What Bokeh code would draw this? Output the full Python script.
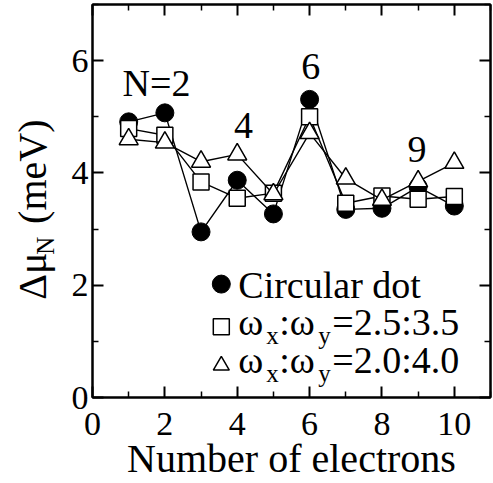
import math
from bokeh.plotting import figure
from bokeh.layouts import row
from bokeh.models import Range1d, LinearAxis, FixedTicker
from bokeh.core.properties import value
from bokeh.embed import file_html
from bokeh.resources import INLINE

# ---- data ----
electrons = [1, 2, 3, 4, 5, 6, 7, 8, 9, 10]
circular = [4.91, 5.07, 2.95, 3.87, 3.27, 5.31, 3.35, 3.37, 3.75, 3.41]
ratio_25_35 = [4.79, 4.67, 3.84, 3.55, 3.64, 5.00, 3.46, 3.59, 3.53, 3.58]
ratio_20_40 = [4.60, 4.54, 4.20, 4.33, 3.62, 4.71, 3.90, 3.52, 3.85, 4.18]

x_major = [0, 2, 4, 6, 8, 10]
x_minor = [1, 3, 5, 7, 9, 11]
y_major = [0, 2, 4, 6]
y_minor = [1, 3, 5, 7]

FONT = "Liberation Serif"
LEFT_W = 60
H = 483
K = 0.33  # baseline correction (fraction of font size)

p = figure(width=493 - LEFT_W, height=H, x_range=Range1d(0, 11), y_range=Range1d(0, 7),
           output_backend="svg", toolbar_location=None,
           min_border_left=92 - LEFT_W, min_border_right=3, min_border_top=4, min_border_bottom=85)
p.grid.visible = False
p.outline_line_color = "black"
p.outline_line_width = 2
p.background_fill_color = "white"

def style_axis(ax, ticks, minor, labels=True):
    ax.ticker = FixedTicker(ticks=ticks, minor_ticks=minor)
    ax.axis_line_width = 2
    ax.axis_line_color = "black"
    ax.major_tick_in = 11
    ax.major_tick_out = 0
    ax.minor_tick_in = 6
    ax.minor_tick_out = 0
    ax.major_tick_line_width = 2
    ax.minor_tick_line_width = 1.5
    ax.major_tick_line_color = "black"
    ax.minor_tick_line_color = "black"
    ax.major_label_text_font = FONT
    ax.major_label_text_color = "black"
    ax.major_label_text_font_size = "34px"
    if not labels:
        ax.major_label_overrides = {t: "" for t in ticks}
        ax.major_label_standoff = 0

style_axis(p.xaxis[0], x_major, x_minor)
p.xaxis[0].major_label_standoff = 15
p.xaxis[0].axis_label = "Number of electrons"
p.xaxis[0].axis_label_text_font = FONT
p.xaxis[0].axis_label_text_font_size = "40px"
p.xaxis[0].axis_label_text_font_style = "normal"
p.xaxis[0].axis_label_text_color = "black"
p.xaxis[0].axis_label_standoff = -2
style_axis(p.yaxis[0], y_major, y_minor)
p.yaxis[0].major_label_standoff = 4

top = LinearAxis()
style_axis(top, x_major, x_minor, labels=False)
p.add_layout(top, "above")
right = LinearAxis()
style_axis(right, y_major, y_minor, labels=False)
p.add_layout(right, "right")

# ---- series ----
p.line(electrons, circular, line_color="black", line_width=1.4)
p.scatter(electrons, circular, marker="circle", size=18, fill_color="black", line_color="black")
p.line(electrons, ratio_25_35, line_color="black", line_width=1.4)
p.scatter(electrons, ratio_25_35, marker="square", size=16, fill_color="white",
          line_color="black", line_width=1.5)
p.line(electrons, ratio_20_40, line_color="black", line_width=1.4)
p.scatter(electrons, ratio_20_40, marker="triangle", size=19, fill_color="white",
          line_color="black", line_width=1.5)

def txt(fig, text, x, y, size_px, xoff=0, yoff=0, align="left", rotated=False):
    corr = K * size_px
    if rotated:
        fig.text(x=[x], y=[y], text=[text], x_offset=xoff - corr, y_offset=yoff,
                 angle=math.pi / 2, text_font=value(FONT), text_font_size=f"{size_px}px",
                 text_align=align, text_baseline="alphabetic", text_color="black")
    else:
        fig.text(x=[x], y=[y], text=[text], x_offset=xoff, y_offset=yoff - corr,
                 text_font=value(FONT), text_font_size=f"{size_px}px",
                 text_align=align, text_baseline="alphabetic", text_color="black")

# ---- annotations ----
for t, xx, yy in [("N=2", 1.77, 5.38), ("6", 6.03, 5.68), ("4", 4.17, 4.62), ("9", 8.97, 4.19)]:
    txt(p, t, xx, yy, 38, align="center")

# ---- legend (manual) ----
p.scatter([3.56], [2.02], marker="circle", size=18, fill_color="black", line_color="black")
p.scatter([3.56], [1.26], marker="square", size=16, fill_color="white", line_color="black", line_width=1.5)
p.scatter([3.56], [0.57], marker="triangle", size=16, fill_color="white", line_color="black", line_width=1.5)

LX = 4.03
SUB = 9

txt(p, "Circular dot", LX, 1.78, 38)
for base, rest in [(1.12, "=2.5:3.5"), (0.44, "=2.0:4.0")]:
    txt(p, "\u03c9", LX, base, 38, 0)
    txt(p, "x", LX, base, 25, 28, SUB)
    txt(p, ":\u03c9", LX, base, 38, 41)
    txt(p, "y", LX, base, 25, 80, SUB)
    txt(p, rest, LX, base, 38, 94)

# ---- y axis title in a narrow side panel; its frame aligns with the main frame (page y 4..398) ----
side = figure(width=LEFT_W, height=H, x_range=Range1d(0, LEFT_W), y_range=Range1d(H - 398, H - 4),
              output_backend="svg", toolbar_location=None,
              x_axis_location=None, y_axis_location=None,
              min_border=0, min_border_left=0, min_border_right=0,
              min_border_top=4, min_border_bottom=85)
side.grid.visible = False
side.outline_line_color = None
txt(side, "\u0394\u03bc", 45, H - 300, 40, rotated=True)
txt(side, "N", 53, H - 255, 25, rotated=True)
txt(side, "(meV)", 45, H - 224, 40, rotated=True)

layout = row(side, p, spacing=0)
open("out.html", "w").write(file_html(layout, INLINE))
